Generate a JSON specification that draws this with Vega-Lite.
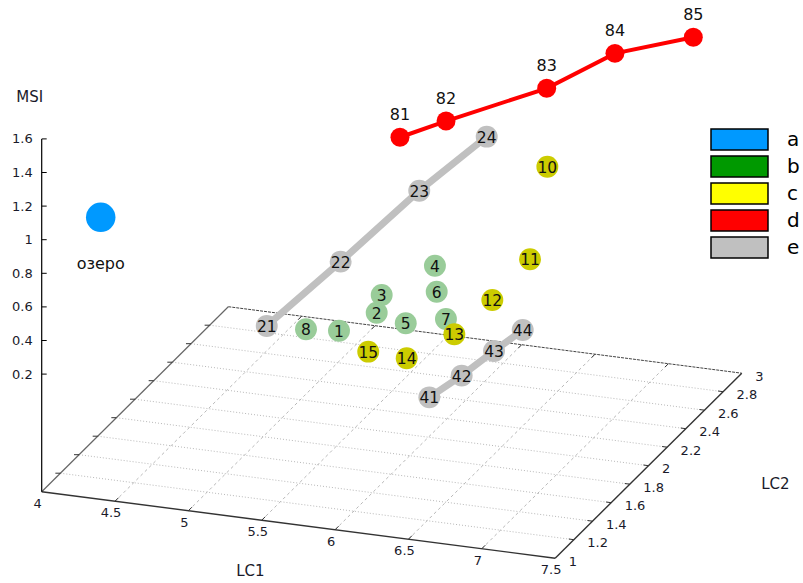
{
 "$schema": "https://vega.github.io/schema/vega-lite/v6.json",
 "width": 803, "height": 583,
 "autosize": {"type": "fit", "contains": "padding"},
 "padding": 0,
 "background": "white",
 "config": {"view": {"stroke": null}, "font": "DejaVu Sans"},
 "data": {"values": [
  {"kind":"gx","id":"x4.5","k":0,"LC1":4.5,"LC2":1},{"kind":"gx","id":"x4.5","k":1,"LC1":4.5,"LC2":3},
  {"kind":"gx","id":"x5","k":0,"LC1":5,"LC2":1},{"kind":"gx","id":"x5","k":1,"LC1":5,"LC2":3},
  {"kind":"gx","id":"x5.5","k":0,"LC1":5.5,"LC2":1},{"kind":"gx","id":"x5.5","k":1,"LC1":5.5,"LC2":3},
  {"kind":"gx","id":"x6","k":0,"LC1":6,"LC2":1},{"kind":"gx","id":"x6","k":1,"LC1":6,"LC2":3},
  {"kind":"gx","id":"x6.5","k":0,"LC1":6.5,"LC2":1},{"kind":"gx","id":"x6.5","k":1,"LC1":6.5,"LC2":3},
  {"kind":"gx","id":"x7","k":0,"LC1":7,"LC2":1},{"kind":"gx","id":"x7","k":1,"LC1":7,"LC2":3},
  {"kind":"gy","id":"y1.2","k":0,"LC1":4,"LC2":1.2},{"kind":"gy","id":"y1.2","k":1,"LC1":7.5,"LC2":1.2},
  {"kind":"gy","id":"y1.4","k":0,"LC1":4,"LC2":1.4},{"kind":"gy","id":"y1.4","k":1,"LC1":7.5,"LC2":1.4},
  {"kind":"gy","id":"y1.6","k":0,"LC1":4,"LC2":1.6},{"kind":"gy","id":"y1.6","k":1,"LC1":7.5,"LC2":1.6},
  {"kind":"gy","id":"y1.8","k":0,"LC1":4,"LC2":1.8},{"kind":"gy","id":"y1.8","k":1,"LC1":7.5,"LC2":1.8},
  {"kind":"gy","id":"y2","k":0,"LC1":4,"LC2":2},{"kind":"gy","id":"y2","k":1,"LC1":7.5,"LC2":2},
  {"kind":"gy","id":"y2.2","k":0,"LC1":4,"LC2":2.2},{"kind":"gy","id":"y2.2","k":1,"LC1":7.5,"LC2":2.2},
  {"kind":"gy","id":"y2.4","k":0,"LC1":4,"LC2":2.4},{"kind":"gy","id":"y2.4","k":1,"LC1":7.5,"LC2":2.4},
  {"kind":"gy","id":"y2.6","k":0,"LC1":4,"LC2":2.6},{"kind":"gy","id":"y2.6","k":1,"LC1":7.5,"LC2":2.6},
  {"kind":"gy","id":"y2.8","k":0,"LC1":4,"LC2":2.8},{"kind":"gy","id":"y2.8","k":1,"LC1":7.5,"LC2":2.8},
  {"kind":"edge","id":"front","k":0,"LC1":4,"LC2":1},{"kind":"edge","id":"front","k":1,"LC1":7.5,"LC2":1},
  {"kind":"edge","id":"right","k":0,"LC1":7.5,"LC2":1},{"kind":"edge","id":"right","k":1,"LC1":7.5,"LC2":3},
  {"kind":"ledge","id":"left","k":0,"LC1":4,"LC2":1},{"kind":"ledge","id":"left","k":1,"LC1":4,"LC2":3},
  {"kind":"back","id":"back","k":0,"LC1":4,"LC2":3},{"kind":"back","id":"back","k":1,"LC1":7.5,"LC2":3},
  {"kind":"zaxis","id":"z","k":0,"LC1":4,"LC2":1},{"kind":"zaxis","id":"z","k":1,"LC1":4,"LC2":1,"MSI":1.6},
  {"kind":"lx","LC1":4,"LC2":1,"label":"4"},{"kind":"lx","LC1":4.5,"LC2":1,"label":"4.5"},
  {"kind":"lx","LC1":5,"LC2":1,"label":"5"},{"kind":"lx","LC1":5.5,"LC2":1,"label":"5.5"},
  {"kind":"lx","LC1":6,"LC2":1,"label":"6"},{"kind":"lx","LC1":6.5,"LC2":1,"label":"6.5"},
  {"kind":"lx","LC1":7,"LC2":1,"label":"7"},{"kind":"lx","LC1":7.5,"LC2":1,"label":"7.5"},
  {"kind":"ly","LC1":7.5,"LC2":1,"label":"1"},{"kind":"ly","LC1":7.5,"LC2":1.2,"label":"1.2"},
  {"kind":"ly","LC1":7.5,"LC2":1.4,"label":"1.4"},{"kind":"ly","LC1":7.5,"LC2":1.6,"label":"1.6"},
  {"kind":"ly","LC1":7.5,"LC2":1.8,"label":"1.8"},{"kind":"ly","LC1":7.5,"LC2":2,"label":"2"},
  {"kind":"ly","LC1":7.5,"LC2":2.2,"label":"2.2"},{"kind":"ly","LC1":7.5,"LC2":2.4,"label":"2.4"},
  {"kind":"ly","LC1":7.5,"LC2":2.6,"label":"2.6"},{"kind":"ly","LC1":7.5,"LC2":2.8,"label":"2.8"},
  {"kind":"ly","LC1":7.5,"LC2":3,"label":"3"},
  {"kind":"lz","LC1":4,"LC2":1,"MSI":0.2,"label":"0.2"},{"kind":"lz","LC1":4,"LC2":1,"MSI":0.4,"label":"0.4"},
  {"kind":"lz","LC1":4,"LC2":1,"MSI":0.6,"label":"0.6"},{"kind":"lz","LC1":4,"LC2":1,"MSI":0.8,"label":"0.8"},
  {"kind":"lz","LC1":4,"LC2":1,"MSI":1.0,"label":"1"},{"kind":"lz","LC1":4,"LC2":1,"MSI":1.2,"label":"1.2"},
  {"kind":"lz","LC1":4,"LC2":1,"MSI":1.4,"label":"1.4"},{"kind":"lz","LC1":4,"LC2":1,"MSI":1.6,"label":"1.6"},
  {"kind":"mx","LC1":4.5,"LC2":3},{"kind":"mx","LC1":5,"LC2":3},{"kind":"mx","LC1":5.5,"LC2":3},
  {"kind":"mx","LC1":6,"LC2":3},{"kind":"mx","LC1":6.5,"LC2":3},{"kind":"mx","LC1":7,"LC2":3},
  {"kind":"my","LC1":4,"LC2":1.2},{"kind":"my","LC1":4,"LC2":1.4},{"kind":"my","LC1":4,"LC2":1.6},
  {"kind":"my","LC1":4,"LC2":1.8},{"kind":"my","LC1":4,"LC2":2},{"kind":"my","LC1":4,"LC2":2.2},
  {"kind":"my","LC1":4,"LC2":2.4},{"kind":"my","LC1":4,"LC2":2.6},{"kind":"my","LC1":4,"LC2":2.8},
  {"kind":"title","label":"MSI","LC1":4,"LC2":1,"MSI":1.6},
  {"kind":"title","label":"LC1","LC1":5.75,"LC2":1},
  {"kind":"title","label":"LC2","LC1":7.5,"LC2":2},
  {"kind":"pt","type":"a","series":"a","n":0,"label":"озеро","LC1":4.275,"LC2":1.2,"MSI":1.054},
  {"kind":"pt","type":"b","series":"b","n":8,"label":"8","LC1":5.420,"LC2":1.6,"MSI":0.297},
  {"kind":"pt","type":"b","series":"b","n":1,"label":"1","LC1":5.645,"LC2":1.6,"MSI":0.314},
  {"kind":"pt","type":"b","series":"b","n":3,"label":"3","LC1":5.936,"LC2":1.6,"MSI":0.559},
  {"kind":"pt","type":"b","series":"b","n":2,"label":"2","LC1":5.902,"LC2":1.6,"MSI":0.450},
  {"kind":"pt","type":"b","series":"b","n":5,"label":"5","LC1":6.100,"LC2":1.6,"MSI":0.410},
  {"kind":"pt","type":"b","series":"b","n":4,"label":"4","LC1":6.299,"LC2":1.6,"MSI":0.775},
  {"kind":"pt","type":"b","series":"b","n":6,"label":"6","LC1":6.311,"LC2":1.6,"MSI":0.621},
  {"kind":"pt","type":"b","series":"b","n":7,"label":"7","LC1":6.374,"LC2":1.6,"MSI":0.466},
  {"kind":"pt","type":"c","series":"c","n":10,"label":"10","LC1":6.938,"LC2":1.8,"MSI":1.326},
  {"kind":"pt","type":"c","series":"c","n":11,"label":"11","LC1":6.820,"LC2":1.8,"MSI":0.762},
  {"kind":"pt","type":"c","series":"c","n":12,"label":"12","LC1":6.563,"LC2":1.8,"MSI":0.490},
  {"kind":"pt","type":"c","series":"c","n":13,"label":"13","LC1":6.304,"LC2":1.8,"MSI":0.257},
  {"kind":"pt","type":"c","series":"c","n":15,"label":"15","LC1":5.908,"LC2":1.5,"MSI":0.274},
  {"kind":"pt","type":"c","series":"c","n":14,"label":"14","LC1":6.170,"LC2":1.5,"MSI":0.264},
  {"kind":"pt","type":"e","series":"e1","n":21,"label":"21","LC1":5.216,"LC2":1.5,"MSI":0.349},
  {"kind":"pt","type":"e","series":"e1","n":22,"label":"22","LC1":5.529,"LC2":1.8,"MSI":0.602},
  {"kind":"pt","type":"e","series":"e1","n":23,"label":"23","LC1":5.874,"LC2":2.1,"MSI":0.898},
  {"kind":"pt","type":"e","series":"e1","n":24,"label":"24","LC1":6.143,"LC2":2.4,"MSI":1.085},
  {"kind":"pt","type":"e","series":"e2","n":41,"label":"41","LC1":6.515,"LC2":1.2,"MSI":0.236},
  {"kind":"pt","type":"e","series":"e2","n":42,"label":"42","LC1":6.672,"LC2":1.3,"MSI":0.328},
  {"kind":"pt","type":"e","series":"e2","n":43,"label":"43","LC1":6.829,"LC2":1.4,"MSI":0.437},
  {"kind":"pt","type":"e","series":"e2","n":44,"label":"44","LC1":6.961,"LC2":1.5,"MSI":0.522},
  {"kind":"pt","type":"d","series":"d","n":81,"label":"81","LC1":5.679,"LC2":2.2,"MSI":1.139},
  {"kind":"pt","type":"d","series":"d","n":82,"label":"82","LC1":5.993,"LC2":2.2,"MSI":1.271},
  {"kind":"pt","type":"d","series":"d","n":83,"label":"83","LC1":6.552,"LC2":2.4,"MSI":1.419},
  {"kind":"pt","type":"d","series":"d","n":84,"label":"84","LC1":6.890,"LC2":2.6,"MSI":1.555},
  {"kind":"pt","type":"d","series":"d","n":85,"label":"85","LC1":7.297,"LC2":2.8,"MSI":1.587}
 ]},
 "transform": [
  {"calculate": "isValid(datum.MSI) ? datum.MSI : -0.5", "as": "z"},
  {"calculate": "41.7 + 146.7*(datum.LC1-4) + 93.3*(datum.LC2-1)", "as": "sx"},
  {"calculate": "491.7 + 19*(datum.LC1-4) - 92.5*(datum.LC2-1) - 168*(datum.z+0.5)", "as": "sy"}
 ],
 "encoding": {
  "x": {"field": "sx", "type": "quantitative", "scale": {"domain": [0, 803], "nice": false, "zero": false}, "axis": null},
  "y": {"field": "sy", "type": "quantitative", "scale": {"domain": [0, 583], "reverse": true, "nice": false, "zero": false}, "axis": null}
 },
 "layer": [
  {"transform": [{"filter": "datum.kind === 'gx'"}],
   "mark": {"type": "line", "color": "#b0b0b0", "strokeWidth": 0.9, "strokeDash": [3, 3]},
   "encoding": {"detail": {"field": "id"}, "order": {"field": "k"}}},
  {"transform": [{"filter": "datum.kind === 'gy'"}],
   "mark": {"type": "line", "color": "#b0b0b0", "strokeWidth": 0.9, "strokeDash": [1, 2]},
   "encoding": {"detail": {"field": "id"}, "order": {"field": "k"}}},
  {"transform": [{"filter": "datum.kind === 'back'"}],
   "mark": {"type": "line", "color": "#444", "strokeWidth": 1, "strokeDash": [3, 1]},
   "encoding": {"detail": {"field": "id"}, "order": {"field": "k"}}},
  {"transform": [{"filter": "datum.kind === 'ledge'"}],
   "mark": {"type": "line", "color": "#666", "strokeWidth": 1.2},
   "encoding": {"detail": {"field": "id"}, "order": {"field": "k"}}},
  {"transform": [{"filter": "datum.kind === 'edge'"}],
   "mark": {"type": "line", "color": "#333", "strokeWidth": 1.4},
   "encoding": {"detail": {"field": "id"}, "order": {"field": "k"}}},
  {"transform": [{"filter": "datum.kind === 'zaxis'"}],
   "mark": {"type": "line", "color": "#000", "strokeWidth": 1.2},
   "encoding": {"detail": {"field": "id"}, "order": {"field": "k"}}},
  {"transform": [{"filter": "datum.kind === 'lx' && datum.LC1 > 4 && datum.LC1 < 7.5"}],
   "mark": {"type": "rule", "color": "#333", "strokeWidth": 1, "x2Offset": 3.5, "y2Offset": -3.5},
   "encoding": {"x2": {"field": "sx"}, "y2": {"field": "sy"}}},
  {"transform": [{"filter": "datum.kind === 'mx'"}],
   "mark": {"type": "rule", "color": "#333", "strokeWidth": 1, "x2Offset": -3.5, "y2Offset": 3.5},
   "encoding": {"x2": {"field": "sx"}, "y2": {"field": "sy"}}},
  {"transform": [{"filter": "datum.kind === 'ly' && datum.LC2 > 1 && datum.LC2 < 3"}],
   "mark": {"type": "rule", "color": "#333", "strokeWidth": 1, "x2Offset": -5, "y2Offset": -0.7},
   "encoding": {"x2": {"field": "sx"}, "y2": {"field": "sy"}}},
  {"transform": [{"filter": "datum.kind === 'my'"}],
   "mark": {"type": "rule", "color": "#333", "strokeWidth": 1, "x2Offset": -5, "y2Offset": 0},
   "encoding": {"x2": {"field": "sx"}, "y2": {"field": "sy"}}},
  {"transform": [{"filter": "datum.kind === 'lz'"}],
   "mark": {"type": "rule", "color": "#000", "strokeWidth": 1, "x2Offset": 5},
   "encoding": {"x2": {"field": "sx"}, "y2": {"field": "sy"}}},
  {"transform": [{"filter": "datum.kind === 'lx'"}],
   "mark": {"type": "text", "fontSize": 13, "color": "#1a1a2a", "align": "center", "baseline": "middle", "dx": -4, "dy": 12},
   "encoding": {"text": {"field": "label"}}},
  {"transform": [{"filter": "datum.kind === 'ly'"}],
   "mark": {"type": "text", "fontSize": 13, "color": "#1a1a2a", "align": "left", "baseline": "middle", "dx": 13.5, "dy": 3.5},
   "encoding": {"text": {"field": "label"}}},
  {"transform": [{"filter": "datum.kind === 'lz'"}],
   "mark": {"type": "text", "fontSize": 13, "color": "#1a1a2a", "align": "right", "baseline": "middle", "dx": -9, "dy": 0.5},
   "encoding": {"text": {"field": "label"}}},
  {"transform": [{"filter": "datum.kind === 'title' && datum.label === 'MSI'"}],
   "mark": {"type": "text", "fontSize": 15, "color": "#1a1a2a", "align": "center", "baseline": "middle", "dx": -12, "dy": -42},
   "encoding": {"text": {"field": "label"}}},
  {"transform": [{"filter": "datum.kind === 'title' && datum.label === 'LC1'"}],
   "mark": {"type": "text", "fontSize": 15, "color": "#1a1a2a", "align": "center", "baseline": "middle", "dx": -48, "dy": 46},
   "encoding": {"text": {"field": "label"}}},
  {"transform": [{"filter": "datum.kind === 'title' && datum.label === 'LC2'"}],
   "mark": {"type": "text", "fontSize": 15, "color": "#1a1a2a", "align": "center", "baseline": "middle", "dx": 127, "dy": 18},
   "encoding": {"text": {"field": "label"}}},
  {"transform": [{"filter": "datum.kind === 'pt' && datum.type === 'e'"}],
   "mark": {"type": "line", "color": "#c0c0c0", "strokeWidth": 7},
   "encoding": {"detail": {"field": "series"}, "order": {"field": "n"}}},
  {"transform": [{"filter": "datum.kind === 'pt' && datum.type === 'd'"}],
   "mark": {"type": "line", "color": "#ff0000", "strokeWidth": 4},
   "encoding": {"detail": {"field": "series"}, "order": {"field": "n"}}},
  {"transform": [{"filter": "datum.kind === 'pt'"}],
   "mark": {"type": "square", "size": 30, "opacity": 1, "stroke": null},
   "encoding": {"fill": {"field": "type", "type": "nominal",
     "scale": {"domain": ["a", "b", "c", "d", "e"], "range": ["#0099ff", "#009900", "#ffff00", "#ff0000", "#c0c0c0"]},
     "legend": {"orient": "none", "legendX": 711, "legendY": 128, "title": null, "padding": 0,
       "symbolType": "M-2.714,-1H2.714V1H-2.714Z", "symbolSize": 441, "symbolOffset": 17, "symbolStrokeColor": "#000", "symbolStrokeWidth": 1.5, "symbolOpacity": 1,
       "labelFontSize": 20, "labelFont": "DejaVu Sans", "labelColor": "#000", "labelOffset": 36, "rowPadding": 0}}}},
  {"transform": [{"filter": "datum.kind === 'pt' && (datum.type === 'b' || datum.type === 'c' || datum.type === 'e')"}],
   "mark": {"type": "circle", "opacity": 1, "size": 480},
   "encoding": {"color": {"field": "type", "type": "nominal", "scale": {"domain": ["a", "b", "c", "d", "e"], "range": ["#0099ff", "#99cc99", "#cccc00", "#ff0000", "#c0c0c0"]}, "legend": null}}},
  {"transform": [{"filter": "datum.kind === 'pt' && datum.type === 'd'"}],
   "mark": {"type": "circle", "opacity": 1, "size": 360},
   "encoding": {"color": {"field": "type", "type": "nominal", "legend": null}}},
  {"transform": [{"filter": "datum.kind === 'pt' && datum.type === 'a'"}],
   "mark": {"type": "circle", "opacity": 1, "size": 870},
   "encoding": {"color": {"field": "type", "type": "nominal", "legend": null}}},
  {"transform": [{"filter": "datum.kind === 'pt' && (datum.type === 'b' || datum.type === 'c' || datum.type === 'e')"}],
   "mark": {"type": "text", "fontSize": 15.5, "color": "#111", "align": "center", "baseline": "middle", "dy": 1},
   "encoding": {"text": {"field": "label"}}},
  {"transform": [{"filter": "datum.kind === 'pt' && datum.type === 'd'"}],
   "mark": {"type": "text", "fontSize": 16, "color": "#111", "align": "center", "baseline": "middle", "dy": -22},
   "encoding": {"text": {"field": "label"}}},
  {"transform": [{"filter": "datum.kind === 'pt' && datum.type === 'a'"}],
   "mark": {"type": "text", "fontSize": 16, "color": "#111", "align": "center", "baseline": "middle", "dy": 47},
   "encoding": {"text": {"field": "label"}}}
 ]
}
